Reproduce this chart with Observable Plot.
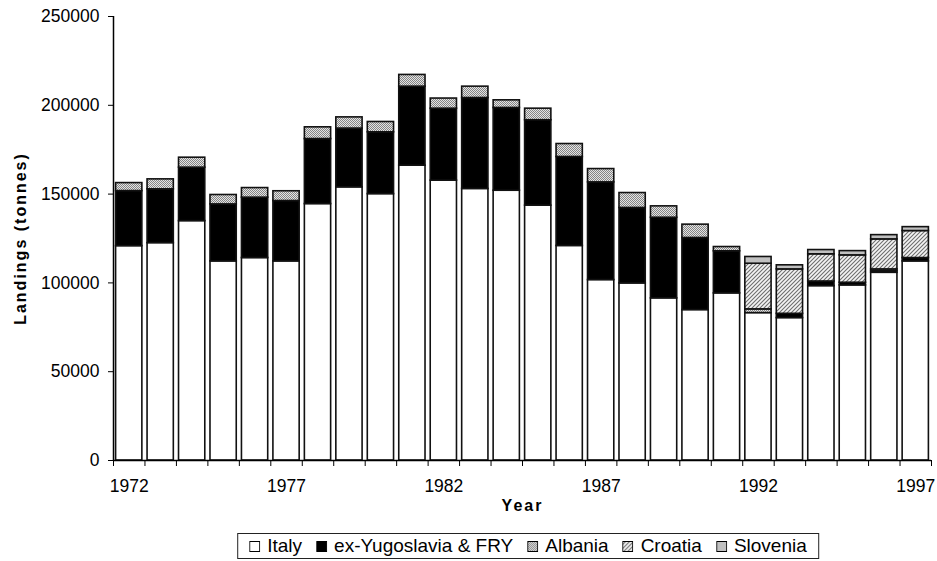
<!DOCTYPE html>
<html>
<head>
<meta charset="utf-8">
<script src="https://cdn.jsdelivr.net/npm/d3@7"></script>
<script src="https://cdn.jsdelivr.net/npm/@observablehq/plot@0.6"></script>
<style>
  body { margin: 0; background: #fff; font-family: "Liberation Sans", Arial, sans-serif; }
  #wrap { position: relative; width: 937px; height: 561px; }
  #legend { position: absolute; top: 533px; left: 528px; transform: translateX(-50%); height: 26px; box-sizing: border-box;
            border: 1px solid #222; display: flex; align-items: center; padding: 0 4px; font-size: 19px; color: #000; white-space: nowrap; }
  .item { display: flex; align-items: center; margin: 0 7px; }
  .item svg { margin-right: 7px; }
  g[aria-label="text"] text { letter-spacing: 2px; }
</style>
</head>
<body>
<svg width="0" height="0" style="position:absolute">
  <defs>
    <pattern id="pat-albania" patternUnits="userSpaceOnUse" width="2" height="2">
      <rect width="2" height="2" fill="#e4e4e4"/>
      <rect width="1" height="1" fill="#858585"/>
      <rect x="1" y="1" width="1" height="1" fill="#858585"/>
    </pattern>
    <pattern id="pat-croatia" patternUnits="userSpaceOnUse" width="4" height="4">
      <rect width="4" height="4" fill="#f4f4f4"/>
      <path d="M0,4L4,0M-1,1L1,-1M3,5L5,3" stroke="#6e6e6e" stroke-width="1.1"/>
    </pattern>
  </defs>
</svg>
<div id="wrap">
  <div id="chart"></div>
  <div id="legend"></div>
</div>
<script>
const years = [1972, 1973, 1974, 1975, 1976, 1977, 1978, 1979, 1980, 1981, 1982, 1983, 1984,
               1985, 1986, 1987, 1988, 1989, 1990, 1991, 1992, 1993, 1994, 1995, 1996, 1997];
const italy    = [120700, 122400, 134800, 112100, 114000, 112100, 144400, 153800, 150000, 166000, 157600, 152900, 151900,
                  143500, 120800, 101600, 99700, 91300, 84700, 94100, 83000, 80200, 98200, 98600, 105700, 112100];
const yugo     = [31000, 30300, 30100, 32100, 34000, 34000, 36600, 33100, 34800, 44500, 40500, 51200, 46600,
                  48100, 50100, 55000, 42500, 45400, 40600, 23700, 0, 2400, 2600, 1500, 900, 1900];
const albania  = [4500, 5600, 5600, 5300, 5400, 5500, 6600, 6300, 5800, 6600, 5700, 6400, 4300,
                  6500, 7300, 7500, 8400, 6400, 7500, 2400, 2100, 0, 0, 0, 1000, 0];
const croatia  = [0, 0, 0, 0, 0, 0, 0, 0, 0, 0, 0, 0, 0,
                  0, 0, 0, 0, 0, 0, 0, 25700, 25000, 15300, 15400, 16900, 15200];
const slovenia = [0, 0, 0, 0, 0, 0, 0, 0, 0, 0, 0, 0, 0,
                  0, 0, 0, 0, 0, 0, 0, 3800, 2300, 2400, 2400, 2400, 2200];

const seriesNames = ["Italy", "ex-Yugoslavia & FRY", "Albania", "Croatia", "Slovenia"];
const seriesFills = ["#ffffff", "#000000", "url(#pat-albania)", "url(#pat-croatia)", "#c0c0c0"];
const seriesValues = [italy, yugo, albania, croatia, slovenia];

const yTicks = [0, 50000, 100000, 150000, 200000, 250000];
const xTickLabels = [1972, 1977, 1982, 1987, 1992, 1997];
const yTitle = "Landings (tonnes)";
const xTitle = "Year";

const rows = [];
seriesNames.forEach((s, k) => {
  years.forEach((y, i) => {
    const v = seriesValues[k][i];
    if (v > 0) rows.push({year: y, series: s, value: v});
  });
});
const xBounds = years.map(y => y - 0.5).concat([years[years.length - 1] + 0.5]);

const chart = Plot.plot({
  width: 937,
  height: 525,
  marginLeft: 113,
  marginRight: 6,
  marginTop: 16,
  marginBottom: 65,
  style: {fontFamily: '"Liberation Sans", Arial, sans-serif', fontSize: "17.5px", color: "#000", background: "#fff"},
  x: {domain: [xBounds[0], xBounds[xBounds.length - 1]]},
  y: {domain: [0, yTicks[yTicks.length - 1]]},
  color: {domain: seriesNames, range: seriesFills},
  marks: [
    Plot.rectY(rows, {
      x1: d => d.year - 0.5, x2: d => d.year + 0.5, y: "value", fill: "series",
      stroke: "#111", strokeWidth: 1.6, insetLeft: 2.6, insetRight: 2.6
    }),
    Plot.ruleY([0], {stroke: "#000", strokeWidth: 1.5}),
    Plot.ruleX([xBounds[0]], {stroke: "#000", strokeWidth: 1.5}),
    Plot.axisY({ticks: yTicks, tickSize: 5, tickPadding: 9, tickFormat: "d", label: null, fontSize: 17.5}),
    Plot.axisX({ticks: xBounds, tickSize: 6, tickFormat: () => "", label: null}),
    Plot.axisX({ticks: xTickLabels, tickSize: 0, tickPadding: 19, tickFormat: "d", label: null, fontSize: 17.5}),
    Plot.text([yTitle], {text: d => d, frameAnchor: "left", textAnchor: "middle", rotate: -90, dx: -93, lineAnchor: "middle", fontWeight: "bold", fontSize: 16}),
    Plot.text([xTitle], {text: d => d, frameAnchor: "bottom", textAnchor: "middle", dy: 45, lineAnchor: "middle", fontWeight: "bold", fontSize: 16})
  ]
});
document.getElementById("chart").appendChild(chart);

const legend = document.getElementById("legend");
const NS = "http://www.w3.org/2000/svg";
seriesNames.forEach((s, k) => {
  const item = document.createElement("div");
  item.className = "item";
  const sw = document.createElementNS(NS, "svg");
  sw.setAttribute("width", "11");
  sw.setAttribute("height", "11");
  const r = document.createElementNS(NS, "rect");
  r.setAttribute("x", "0.5"); r.setAttribute("y", "0.5");
  r.setAttribute("width", "10"); r.setAttribute("height", "10");
  r.setAttribute("fill", seriesFills[k]);
  r.setAttribute("stroke", "#000");
  r.setAttribute("stroke-width", "1");
  sw.appendChild(r);
  const t = document.createElement("span");
  t.textContent = s;
  item.appendChild(sw);
  item.appendChild(t);
  legend.appendChild(item);
});
</script>
</body>
</html>
